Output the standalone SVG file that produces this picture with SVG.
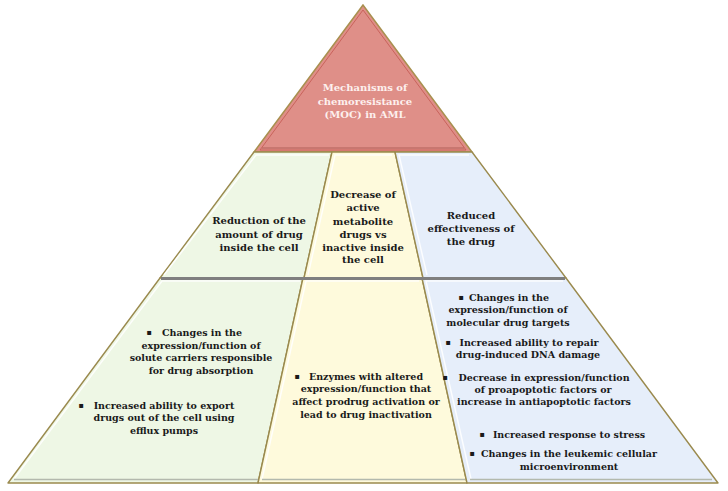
<svg xmlns="http://www.w3.org/2000/svg" width="728" height="491" viewBox="0 0 728 491">
<style>
.t{font-family:"DejaVu Serif","Liberation Serif",serif;font-weight:bold;fill:#1a1a1a;text-anchor:middle}
.m{font-size:10px}
.b{font-size:9.5px}
.top{font-size:10px;fill:#fdf0ee}
.bul{font-family:"DejaVu Sans",sans-serif;font-size:8px;fill:#1a1a1a;text-anchor:middle}
.pan{stroke:#9a8a4e;stroke-width:1.4;stroke-linejoin:round}
.hl{fill:none;stroke:#ffffff;stroke-width:1.5;opacity:0.85}
.sh{stroke:#b3b9ad;stroke-width:1.5}
.g{fill:#eef7e5}
.y{fill:#fefadc}
.bl{fill:#e6eefa}
</style>
<rect width="728" height="491" fill="#ffffff"/>
<g id="apex">
<polygon points="363,5 254,152 472,152" fill="#df8f88" stroke="#a8904f" stroke-width="1.5"/>
<line x1="262" y1="148" x2="464" y2="148" stroke="#c87770" stroke-width="2"/>
<polygon points="363,10 260,150 466,150" fill="none" stroke="#c9625b" stroke-width="1"/>
<text class="t top" x="365" y="91">Mechanisms of</text>
<text class="t top" x="365" y="105">chemoresistance</text>
<text class="t top" x="365" y="118">(MOC) in AML</text>
</g>
<g id="mid-left">
<polygon class="pan g" points="254,152 332,152 304,278 160,278"/>
<polyline class="hl" points="164,275 256,155 329,155"/>
<text class="t m" x="259" y="224">Reduction of the</text>
<text class="t m" x="259" y="238">amount of drug</text>
<text class="t m" x="259" y="251">inside the cell</text>
</g>
<g id="mid-center">
<polygon class="pan y" points="332,152 395,152 423,278 304,278"/>
<polyline class="hl" points="308,275 335,155 392,155"/>
<text class="t m" x="363" y="198">Decrease of</text>
<text class="t m" x="363" y="211">active</text>
<text class="t m" x="363" y="225">metabolite</text>
<text class="t m" x="363" y="238">drugs vs</text>
<text class="t m" x="363" y="251">inactive inside</text>
<text class="t m" x="363" y="263">the cell</text>
</g>
<g id="mid-right">
<polygon class="pan bl" points="395,152 472,152 566,278 423,278"/>
<polyline class="hl" points="427,275 399,155 469,155"/>
<text class="t m" x="471" y="219">Reduced</text>
<text class="t m" x="471" y="232">effectiveness of</text>
<text class="t m" x="471" y="245">the drug</text>
</g>
<g id="bottom-left">
<polygon class="pan g" points="160,278 303,278 258,483 8,483"/>
<polyline class="hl" points="14,479 162,281 300,281"/>
<line class="sh" x1="14" y1="479.5" x2="258" y2="479.5"/>
<text class="bul" x="149" y="335">▪</text>
<text class="t b" x="202" y="336">Changes in the</text>
<text class="t b" x="201" y="349">expression/function of</text>
<text class="t b" x="201" y="361">solute carriers responsible</text>
<text class="t b" x="201" y="374">for drug absorption</text>
<text class="bul" x="81" y="408">▪</text>
<text class="t b" x="164" y="409">Increased ability to export</text>
<text class="t b" x="164" y="421">drugs out of the cell using</text>
<text class="t b" x="164" y="434">efflux pumps</text>
</g>
<g id="bottom-center">
<polygon class="pan y" points="303,278 422,278 467,483 258,483"/>
<polyline class="hl" points="262,479 306,281 419,281"/>
<line class="sh" x1="262" y1="479.5" x2="465" y2="479.5"/>
<text class="bul" x="297" y="379">▪</text>
<text class="t b" x="366" y="380">Enzymes with altered</text>
<text class="t b" x="366" y="392">expression/function that</text>
<text class="t b" x="366" y="405">affect prodrug activation or</text>
<text class="t b" x="366" y="418">lead to drug inactivation</text>
</g>
<g id="bottom-right">
<polygon class="pan bl" points="422,278 566,278 718,483 467,483"/>
<polyline class="hl" points="471,479 426,281 563,281"/>
<line class="sh" x1="470" y1="479.5" x2="712" y2="479.5"/>
<text class="bul" x="461" y="300">▪</text>
<text class="t b" x="509" y="301">Changes in the</text>
<text class="t b" x="508" y="313">expression/function of</text>
<text class="t b" x="508" y="326">molecular drug targets</text>
<text class="bul" x="448" y="345">▪</text>
<text class="t b" x="529" y="346">Increased ability to repair</text>
<text class="t b" x="528" y="358">drug-induced DNA damage</text>
<text class="bul" x="445" y="380">▪</text>
<text class="t b" x="544" y="381">Decrease in expression/function</text>
<text class="t b" x="543" y="393">of proapoptotic factors or</text>
<text class="t b" x="544" y="405">increase in antiapoptotic factors</text>
<text class="bul" x="482" y="437">▪</text>
<text class="t b" x="569" y="438">Increased response to stress</text>
<text class="bul" x="472" y="456">▪</text>
<text class="t b" x="569" y="457">Changes in the leukemic cellular</text>
<text class="t b" x="569" y="470">microenvironment</text>
</g>
<g id="connectors">
<line x1="161" y1="278.5" x2="565" y2="278.5" stroke="#7f7f7f" stroke-width="3"/>
</g>
</svg>
